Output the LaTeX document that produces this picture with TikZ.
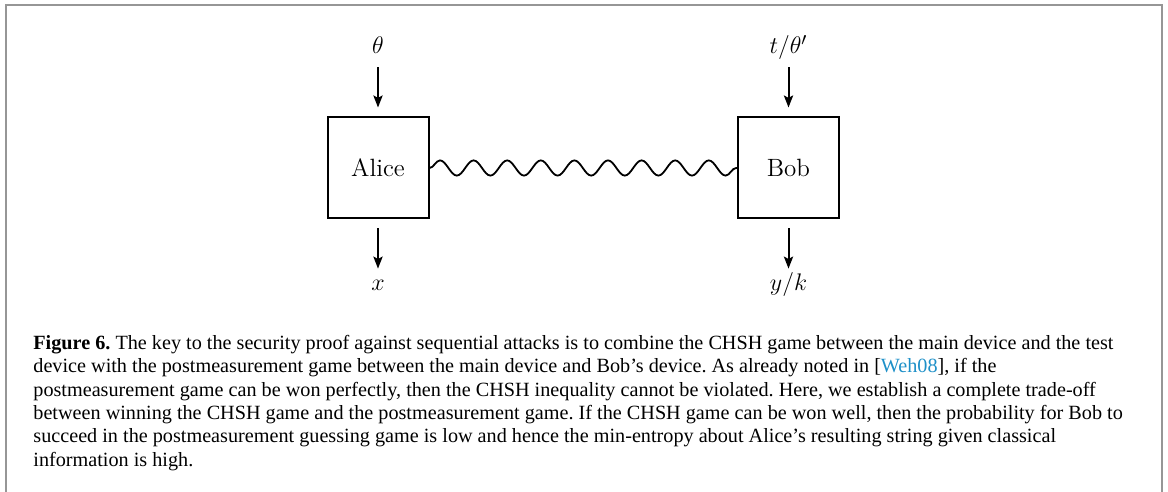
\documentclass[tikz,border=0pt]{standalone}
\usepackage{fontspec}
\usetikzlibrary{arrows.meta,decorations.pathmorphing}
\newfontfamily\capfont{Liberation Serif}
\definecolor{citeblue}{RGB}{30,144,200}
\definecolor{framegray}{RGB}{150,150,150}
\begin{document}
\begin{tikzpicture}[x=.5pt,y=.5pt,
  dev/.style={draw,line width=1pt,minimum size=50.5pt,inner sep=0pt,font=\fontsize{12.5}{15}\selectfont},
  lbl/.style={inner sep=2pt,text height=9pt,text depth=3pt,font=\fontsize{12.5}{15}\selectfont},
  arr/.style={line width=1pt,-{Stealth[length=6pt,width=4.6pt,inset=1.2pt]}},
  wave/.style={line width=.9pt,decorate,decoration={snake,segment length=16.8pt,amplitude=3.8pt}}]
\useasboundingbox (0,0) rectangle (1168,492);
%frame
\draw[framegray,line width=.7pt] (6,0) |- (1162,487) -- (1162,0);

\node[dev] (alice) at (378,324) {Alice};
\node[dev] (bob) at (788.5,324) {Bob};
\node[lbl,anchor=base] (ain) at (378,438) {$\theta$};
\node[lbl,anchor=base] (bin) at (788.5,438) {$t/\theta'$};
\node[lbl,anchor=base] (aout) at (378,201) {$x$};
\node[lbl,anchor=base] (bout) at (788.5,201) {$y/k$};

\draw[arr,shorten <=1.5pt,shorten >=4.5pt] (ain) -- (alice);
\draw[arr,shorten <=1.5pt,shorten >=4.5pt] (bin) -- (bob);
\draw[arr,shorten <=4.5pt] (alice) -- (aout);
\draw[arr,shorten <=4.5pt] (bob) -- (bout);
\draw[wave] (alice) -- (bob);

\node[anchor=north west,inner sep=0pt,align=left,font=\capfont\fontsize{10.1}{11.65}\selectfont\frenchspacing] (cap) at (33,157)
{\textbf{Figure 6.} The key to the security proof against sequential attacks is to combine the CHSH game between the main device and the test\\
device with the postmeasurement game between the main device and Bob’s device. As already noted in [{\color{citeblue}Weh08}], if the\\
postmeasurement game can be won perfectly, then the CHSH inequality cannot be violated. Here, we establish a complete trade-off\\
between winning the CHSH game and the postmeasurement game. If the CHSH game can be won well, then the probability for Bob to\\
succeed in the postmeasurement guessing game is low and hence the min-entropy about Alice’s resulting string given classical\\
information is high.};
\end{tikzpicture}
\end{document}
